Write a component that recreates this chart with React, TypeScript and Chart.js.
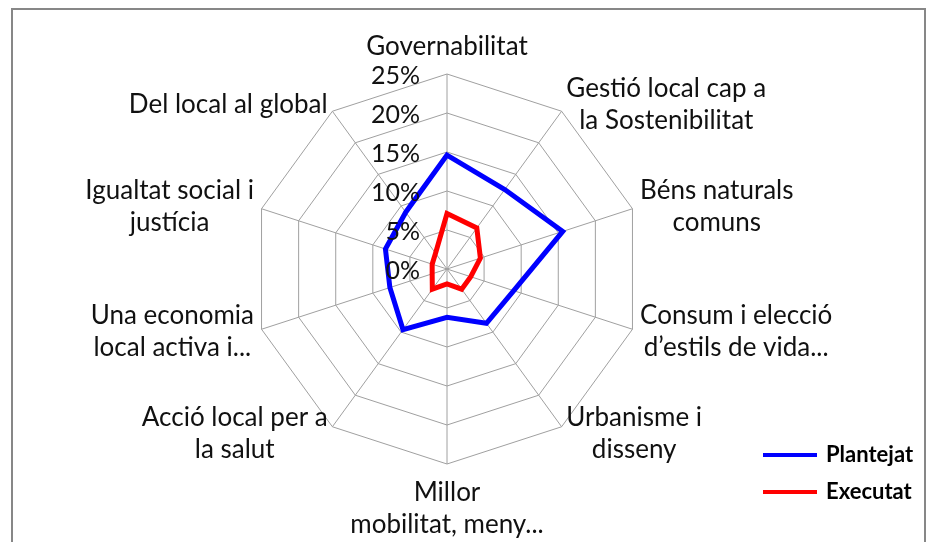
import React, { useEffect, useRef } from "react";
import { Chart, registerables } from "chart.js";

Chart.register(...registerables);

const categories: (string | string[])[] = [
  "Governabilitat",
  ["Gestió local cap a", "la Sostenibilitat"],
  ["Béns naturals", "comuns"],
  ["Consum i elecció", "d’estils de vida..."],
  ["Urbanisme i", "disseny"],
  ["Millor", "mobilitat, meny..."],
  ["Acció local per a", "la salut"],
  ["Una economia", "local activa i..."],
  ["Igualtat social i", "justícia"],
  "Del local al global",
];

const plantejat = [14.6, 12.6, 15.6, 9.0, 8.6, 6.2, 9.6, 7.7, 8.3, 9.0];
const executat = [7.1, 6.5, 4.5, 3.2, 3.2, 1.9, 3.2, 2.0, 2.0, 2.5];

const seriesNames = ["Plantejat", "Executat"];
const seriesColors = ["#0000FF", "#FF0000"];

const tickValues = [0, 5, 10, 15, 20, 25];
const tickLabels = ["0%", "5%", "10%", "15%", "20%", "25%"];

const FONT = 'Lato, "Open Sans", sans-serif';

export default function App() {
  const ref = useRef<HTMLCanvasElement>(null);

  useEffect(() => {
    document.body.style.margin = "0";
    const canvas = ref.current!;

    const overlay = {
      id: "overlay",
      beforeDraw(chart: any) {
        const ctx = chart.ctx as CanvasRenderingContext2D;
        ctx.save();
        ctx.fillStyle = "#ffffff";
        ctx.fillRect(0, 0, chart.width, chart.height);
        ctx.strokeStyle = "#878787";
        ctx.lineWidth = 2;
        ctx.strokeRect(12, 9, 913, 600);
        ctx.restore();
      },
      afterDatasetsDraw(chart: any) {
        const ctx = chart.ctx as CanvasRenderingContext2D;
        const scale = chart.scales.r;
        ctx.save();
        // tick labels
        ctx.fillStyle = "#111";
        ctx.font = `25px ${FONT}`;
        ctx.textAlign = "right";
        ctx.textBaseline = "middle";
        tickValues.forEach((v, i) => {
          const d = scale.getDistanceFromCenterForValue(v);
          ctx.fillText(tickLabels[i], scale.xCenter - 27, scale.yCenter - d + 2);
        });

        // point labels
        ctx.font = `26px ${FONT}`;
        const labels = chart.data.labels as (string | string[])[];
        const n = labels.length;
        const lineH = 32;
        labels.forEach((lab, i) => {
          const lines = Array.isArray(lab) ? lab : [lab];
          const p = scale.getPointPosition(i, scale.drawingArea + 8);
          const widths = lines.map((l) => ctx.measureText(l).width);
          const bw = Math.max(...widths);
          let cx: number;
          let firstY: number;
          if (i === 0) {
            cx = p.x;
            firstY = p.y - 19 - (lines.length - 1) * lineH;
          } else if (i === n / 2) {
            cx = p.x;
            firstY = p.y + 21;
          } else if (i < n / 2) {
            cx = p.x + bw / 2;
            firstY = p.y - ((lines.length - 1) * lineH) / 2;
          } else {
            cx = p.x - bw / 2;
            firstY = p.y - ((lines.length - 1) * lineH) / 2;
          }
          ctx.textAlign = "center";
          lines.forEach((l, k) => ctx.fillText(l, cx, firstY + k * lineH));
        });

        // legend
        const ds = chart.data.datasets;
        ctx.font = `bold 22px ${FONT}`;
        ctx.textAlign = "left";
        ds.forEach((d: any, k: number) => {
          const y = 455 + k * 37;
          ctx.strokeStyle = d.borderColor;
          ctx.lineWidth = 4;
          ctx.beginPath();
          ctx.moveTo(763, y);
          ctx.lineTo(817, y);
          ctx.stroke();
          ctx.fillStyle = "#000";
          ctx.fillText(d.label, 826, y);
        });
        ctx.restore();
      },
    };

    const chart = new Chart(canvas, {
      type: "radar",
      data: {
        labels: categories as any,
        datasets: [
          {
            label: seriesNames[0],
            data: plantejat,
            borderColor: seriesColors[0],
            borderWidth: 5,
            fill: false,
            pointRadius: 0,
            pointHoverRadius: 0,
            borderJoinStyle: "miter",
          },
          {
            label: seriesNames[1],
            data: executat,
            borderColor: seriesColors[1],
            borderWidth: 5,
            fill: false,
            pointRadius: 0,
            pointHoverRadius: 0,
            borderJoinStyle: "miter",
          },
        ],
      },
      options: {
        responsive: false,
        animation: false,
        devicePixelRatio: 1,
        layout: { padding: { left: 252, right: 286, top: 74, bottom: 78 } },
        plugins: {
          legend: { display: false },
          tooltip: { enabled: false },
        },
        scales: {
          r: {
            min: 0,
            max: 25,
            ticks: { display: false, stepSize: 5 },
            pointLabels: { display: false },
            grid: { circular: false, color: "#a0a0a0", lineWidth: 1 },
            angleLines: { display: true, color: "#a0a0a0", lineWidth: 1 },
          },
        },
      } as any,
      plugins: [overlay],
    });

    return () => chart.destroy();
  }, []);

  return (
    <canvas
      ref={ref}
      width={928}
      height={542}
      style={{ display: "block", width: 928, height: 542 }}
    />
  );
}
